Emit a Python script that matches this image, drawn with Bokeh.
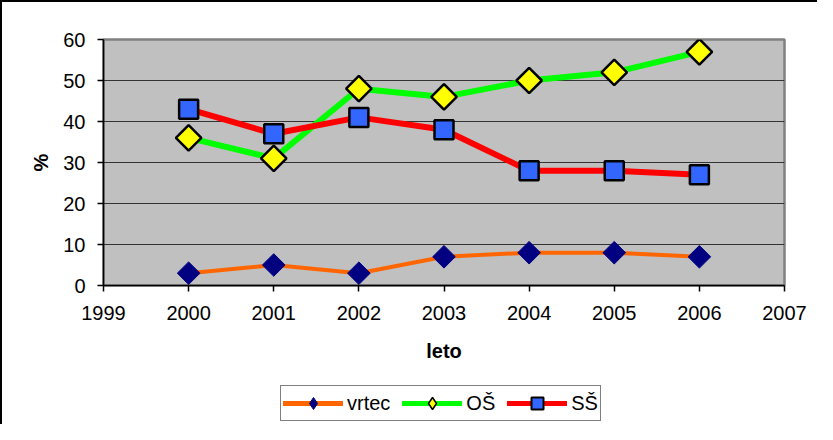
import math
from bokeh.plotting import figure
from bokeh.layouts import column
from bokeh.models import Range1d, FixedTicker, Legend, LegendItem
from bokeh.embed import file_html
from bokeh.resources import INLINE

# ---- data ----
years = [2000, 2001, 2002, 2003, 2004, 2005, 2006]
vrtec = [3, 5, 3, 7, 8, 8, 7]
os_vals = [36, 31, 48, 46, 50, 52, 57]
ss_vals = [43, 37, 41, 38, 28, 28, 27]
series_names = ["vrtec", "OŠ", "SŠ"]
x_ticks = [1999, 2000, 2001, 2002, 2003, 2004, 2005, 2006, 2007]
x_tick_labels = ["1999", "2000", "2001", "2002", "2003", "2004", "2005", "2006", "2007"]
y_ticks = [0, 10, 20, 30, 40, 50, 60]
x_title = "leto"
y_title = "%"

FONT = "Liberation Sans"
C_V, C_VM = "#FF6600", "#000080"
C_O, C_OM = "#00FF00", "#FFFF00"
C_S, C_SM = "#FF0000", "#3366FF"

p = figure(width=815, height=380,
           x_range=Range1d(x_ticks[0], x_ticks[-1]),
           y_range=Range1d(y_ticks[0], y_ticks[-1]),
           output_backend="svg", toolbar_location=None,
           min_border_left=101, min_border_top=37,
           min_border_right=33, min_border_bottom=97)

p.background_fill_color = "#C0C0C0"
p.border_fill_color = "white"
p.outline_line_color = "#808080"
p.outline_line_width = 2.5

p.xgrid.visible = False
p.ygrid.ticker = FixedTicker(ticks=y_ticks)
p.ygrid.grid_line_color = "#333333"
p.ygrid.grid_line_width = 1

for ax in (p.xaxis[0], p.yaxis[0]):
    ax.axis_line_color = "black"
    ax.axis_line_width = 1.5
    ax.major_tick_line_color = "black"
    ax.major_tick_line_width = 1.5
    ax.major_tick_out = 6
    ax.major_tick_in = 0
    ax.minor_tick_line_color = None
    ax.major_label_text_font = FONT
    ax.major_label_text_font_size = "20px"
    ax.major_label_text_color = "black"
    ax.axis_label_text_font = FONT
    ax.axis_label_text_font_size = "20px"
    ax.axis_label_text_font_style = "bold"
    ax.axis_label_text_color = "black"

p.xaxis.ticker = FixedTicker(ticks=x_ticks)
p.xaxis.major_label_overrides = {t: l for t, l in zip(x_ticks, x_tick_labels)}
p.xaxis.axis_label = x_title
p.xaxis.major_label_standoff = 14
p.xaxis.axis_label_standoff = 17
p.yaxis.ticker = FixedTicker(ticks=y_ticks)
p.yaxis.axis_label = y_title
p.yaxis.major_label_standoff = 12
p.yaxis.axis_label_standoff = 8

p.line(years, vrtec, line_color=C_V, line_width=4, line_join="round")
p.scatter(years, vrtec, marker="square", angle=math.pi / 4, size=16,
          fill_color=C_VM, line_color=C_VM, line_width=1)
p.line(years, os_vals, line_color=C_O, line_width=6, line_join="round")
p.scatter(years, os_vals, marker="square", angle=math.pi / 4, size=18,
          fill_color=C_OM, line_color="black", line_width=2.5)
p.line(years, ss_vals, line_color=C_S, line_width=6, line_join="round")
p.scatter(years, ss_vals, marker="square", size=19,
          fill_color=C_SM, line_color="black", line_width=2.5)

# ---- legend strip (separate figure so the legend can sit below the axis title) ----
q = figure(width=815, height=42, x_range=Range1d(0, 1), y_range=Range1d(0, 1),
           output_backend="svg", toolbar_location=None,
           x_axis_location=None, y_axis_location=None,
           min_border=0, min_border_left=0, min_border_right=0,
           min_border_top=0, min_border_bottom=0)
q.outline_line_color = None
q.background_fill_color = "white"
q.border_fill_color = "white"
q.xgrid.visible = False
q.ygrid.visible = False

lv = q.line(years, vrtec, line_color=C_V, line_width=5, line_cap="round", visible=False)
lvm = q.scatter(years, vrtec, marker="diamond", fill_color=C_VM, line_color=C_VM,
                line_width=1, visible=False)
lo = q.line(years, os_vals, line_color=C_O, line_width=5, line_cap="round", visible=False)
lom = q.scatter(years, os_vals, marker="diamond", fill_color=C_OM, line_color="black",
                line_width=1.5, visible=False)
ls = q.line(years, ss_vals, line_color=C_S, line_width=5, line_cap="round", visible=False)
lsm = q.scatter(years, ss_vals, marker="square", fill_color=C_SM, line_color="black",
                line_width=2, visible=False)

legend = Legend(items=[
    LegendItem(label=series_names[0], renderers=[lv, lvm]),
    LegendItem(label=series_names[1], renderers=[lo, lom]),
    LegendItem(label=series_names[2], renderers=[ls, lsm]),
], orientation="horizontal", location=(177, 3))
legend.label_text_font = FONT
legend.label_text_font_size = "20px"
legend.label_text_color = "black"
legend.glyph_width = 60
legend.glyph_height = 30
legend.label_standoff = 4
legend.spacing = 12
legend.padding = 2
legend.margin = 0
legend.border_line_color = "black"
legend.border_line_width = 1
legend.background_fill_color = "white"
legend.background_fill_alpha = 1
legend.inactive_fill_alpha = 0
q.add_layout(legend)

layout = column(p, q, spacing=0)
layout.styles = {"border-top": "2px solid black", "border-left": "2px solid black"}

open("out.html", "w").write(file_html(layout, INLINE))
